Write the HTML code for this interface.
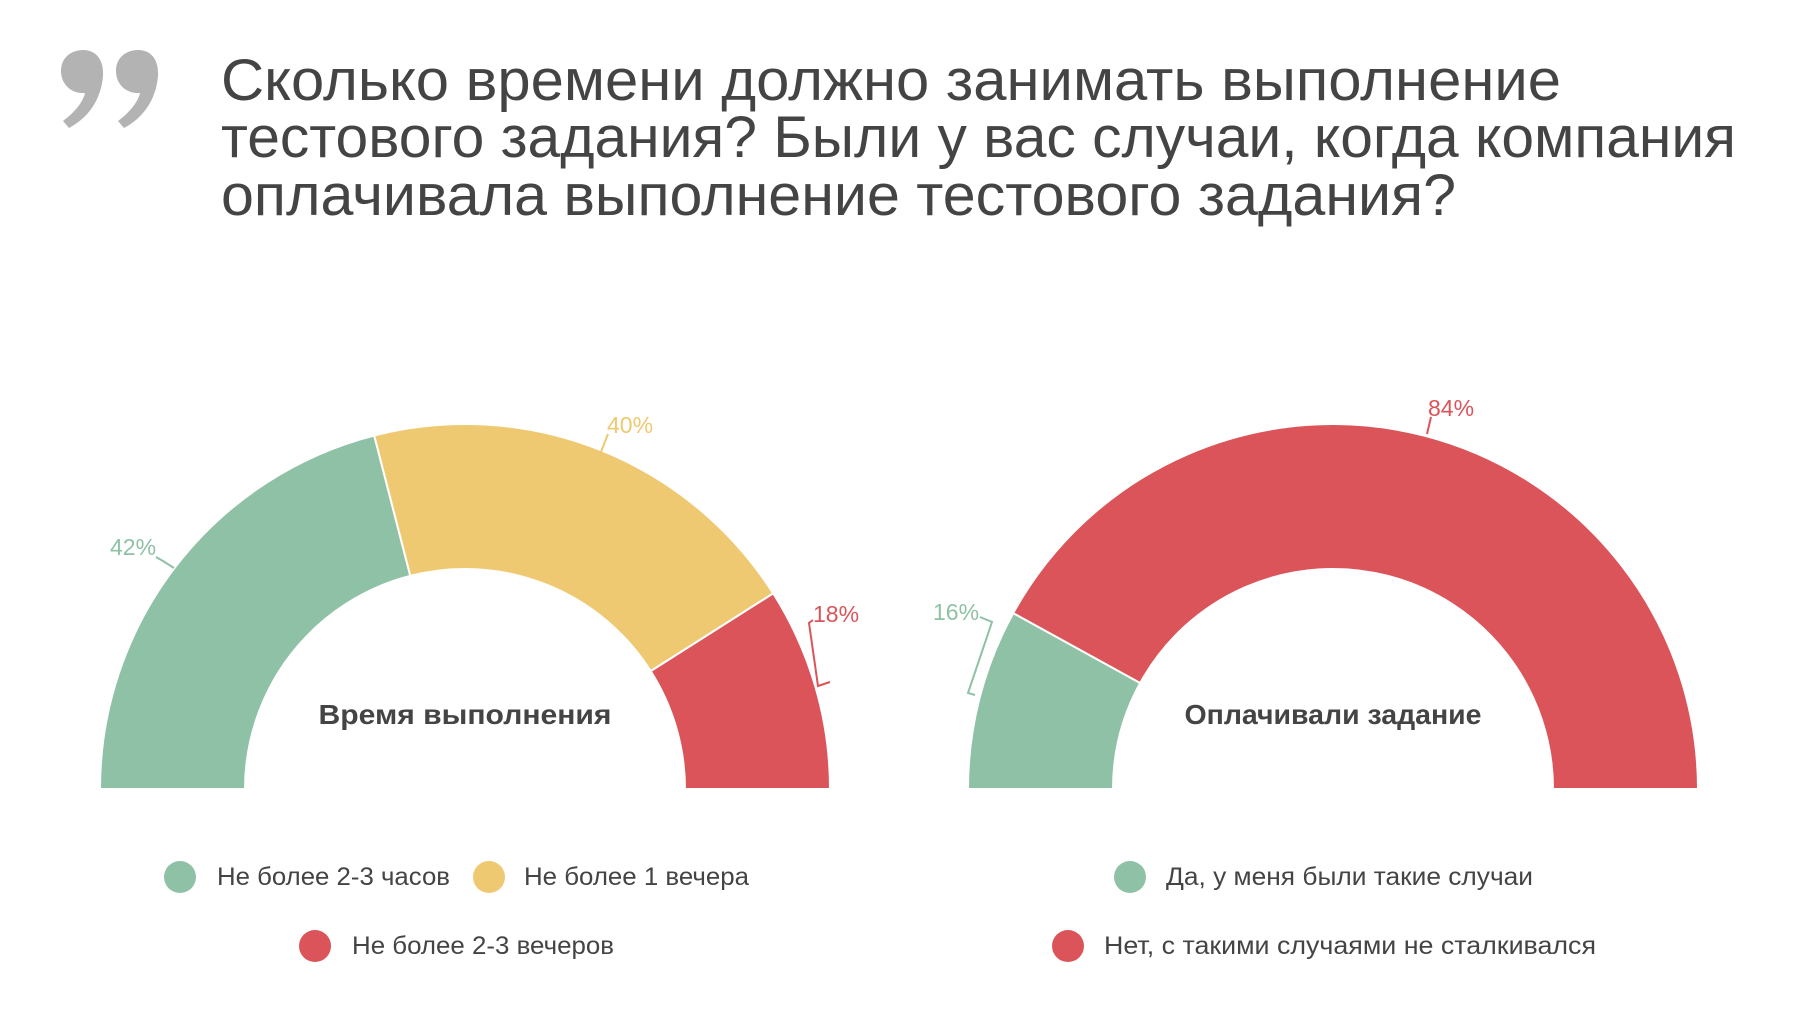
<!DOCTYPE html>
<html><head><meta charset="utf-8"><style>
html,body{margin:0;padding:0;background:#fff;}
svg{display:block;}
text{font-family:"Liberation Sans",sans-serif;}
</style></head><body>
<svg width="1798" height="1012" viewBox="0 0 1798 1012" xmlns="http://www.w3.org/2000/svg">
<g fill="#b3b3b3">
<path d="M61,71 C61,57 72,50 83,50 C97,50 104,61 103,76 C101,100 88,118 69,128 L63,121 C75,112 83,102 85,93 C71,94 61,84 61,71 Z"/>
<path d="M116,71 C116,57 127,50 138,50 C152,50 159,61 158,76 C156,100 143,118 124,128 L118,121 C130,112 138,102 140,93 C126,94 116,84 116,71 Z"/>
</g>
<g fill="#444" font-size="58">
<text x="221" y="100" textLength="1340" lengthAdjust="spacingAndGlyphs">Сколько времени должно занимать выполнение</text>
<text x="221" y="157" textLength="1515" lengthAdjust="spacingAndGlyphs">тестового задания? Были у вас случаи, когда компания</text>
<text x="221" y="215" textLength="1235" lengthAdjust="spacingAndGlyphs">оплачивала выполнение тестового задания?</text>
</g>
<g transform="translate(-2,-2)">
<g stroke="#fff" stroke-width="2">
<path d="M102,791 A365,365 0 0 1 376.2,437.5 L412.3,577.9 A220,220 0 0 0 247,791 Z" fill="#8fc1a6"/>
<path d="M376.2,437.5 A365,365 0 0 1 775.2,595.4 L652.7,673.1 A220,220 0 0 0 412.3,577.9 Z" fill="#eec971"/>
<path d="M775.2,595.4 A365,365 0 0 1 832,791 L687,791 A220,220 0 0 0 652.7,673.1 Z" fill="#db5459"/>
</g>
<g font-size="23">
<text x="112" y="557" fill="#8fc1a6">42%</text>
<path d="M158,559 L165,563 L176,570" stroke="#8fc1a6" stroke-width="2" fill="none"/>
<text x="609" y="435" fill="#eec971">40%</text>
<path d="M610,436 L603,454" stroke="#eec971" stroke-width="2" fill="none"/>
<text x="815" y="624" fill="#db5459">18%</text>
<path d="M815,622 L811,625 L820,688 L832,684" stroke="#db5459" stroke-width="2" fill="none"/>
</g>
</g>
<g transform="translate(-7,-4)">
<g stroke="#fff" stroke-width="2">
<path d="M975,793 A365,365 0 0 1 1020.2,617.1 L1147.2,687 A220,220 0 0 0 1120,793 Z" fill="#8fc1a6"/>
<path d="M1020.2,617.1 A365,365 0 0 1 1705,793 L1560,793 A220,220 0 0 0 1147.2,687 Z" fill="#db5459"/>
</g>
<g font-size="23">
<text x="1435" y="420" fill="#db5459">84%</text>
<path d="M1438,421 L1434,438" stroke="#db5459" stroke-width="2" fill="none"/>
<text x="940" y="624" fill="#8fc1a6">16%</text>
<path d="M987,621 L999,626 L975,697 L982,699" stroke="#8fc1a6" stroke-width="2" fill="none"/>
</g>
</g>
<rect x="0" y="789" width="1798" height="6" fill="#fff"/>
<g font-size="28" font-weight="bold" fill="#444" text-anchor="middle">
<text x="465" y="724" textLength="293" lengthAdjust="spacingAndGlyphs">Время выполнения</text>
<text x="1333" y="724" textLength="297" lengthAdjust="spacingAndGlyphs">Оплачивали задание</text>
</g>
<circle cx="180" cy="877" r="16" fill="#8fc1a6"/>
<circle cx="489" cy="877" r="16" fill="#eec971"/>
<circle cx="315" cy="946" r="16" fill="#db5459"/>
<circle cx="1130" cy="877" r="16" fill="#8fc1a6"/>
<circle cx="1068" cy="946" r="16" fill="#db5459"/>
<g font-size="25" fill="#444">
<text x="217" y="885" textLength="233" lengthAdjust="spacingAndGlyphs">Не более 2-3 часов</text>
<text x="524" y="885" textLength="225" lengthAdjust="spacingAndGlyphs">Не более 1 вечера</text>
<text x="352" y="954" textLength="262" lengthAdjust="spacingAndGlyphs">Не более 2-3 вечеров</text>
<text x="1166" y="885" textLength="367" lengthAdjust="spacingAndGlyphs">Да, у меня были такие случаи</text>
<text x="1104" y="954" textLength="492" lengthAdjust="spacingAndGlyphs">Нет, с такими случаями не сталкивался</text>
</g>
</svg>
</body></html>
